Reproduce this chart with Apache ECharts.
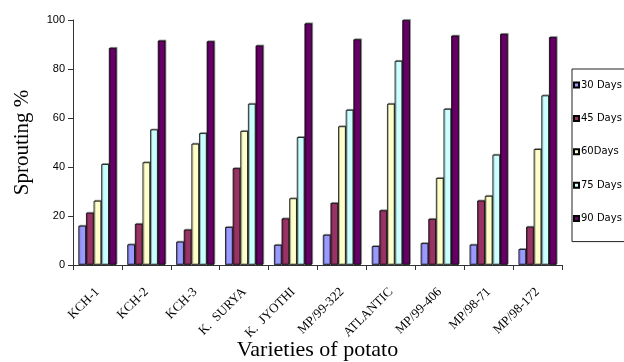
<!DOCTYPE html>
<html><head><meta charset="utf-8">
<script src="https://cdn.jsdelivr.net/npm/echarts@6/dist/echarts.min.js"></script>
<style>html,body{margin:0;padding:0;background:#fff}#c{width:624px;height:362px}</style>
</head><body><div id="c"></div>
<script>
const categories = ["KCH-1","KCH-2","KCH-3","K.  SURYA","K.  JYOTHI","MP/99-322","ATLANTIC","MP/99-406","MP/98-71","MP/98-172"];
const seriesNames = ["30 Days","45 Days","60Days","75 Days","90 Days"];
const d30 = [16.0, 8.4, 9.5, 15.5, 8.2, 12.3, 7.7, 8.9, 8.3, 6.5];
const d45 = [21.3, 16.8, 14.4, 39.5, 19.0, 25.3, 22.3, 18.8, 26.3, 15.6];
const d60 = [26.2, 41.9, 49.5, 54.7, 27.2, 56.6, 65.8, 35.5, 28.2, 47.3];
const d75 = [41.2, 55.3, 53.8, 65.8, 52.2, 63.3, 83.3, 63.7, 45.0, 69.2];
const d90 = [88.6, 91.6, 91.3, 89.6, 98.6, 92.1, 100.0, 93.6, 94.3, 93.0];
const yTicks = [0, 20, 40, 60, 80, 100];
const colors = ["#9999FF","#993366","#FFFFCC","#CCFFFF","#660066"];
const allData = [d30, d45, d60, d75, d90];

const chart = echarts.init(document.getElementById('c'), null, {renderer:'canvas'});
chart.setOption({
  animation: false,
  backgroundColor: '#fff',
  grid: {left: 73, right: 62, top: 20, bottom: 97, containLabel: false, outerBoundsMode: 'none'},
  legend: {
    orient: 'vertical', left: 572, top: 69,
    padding: [11, 40, 18, 1],
    itemWidth: 5, itemHeight: 5, itemGap: 23.4,
    borderColor: '#222', borderWidth: 1,
    icon: 'rect',
    textStyle: {fontFamily: 'DejaVu Sans', fontSize: 10, color: '#000', lineHeight: 10, padding: [0,0,0,-3]},
    data: seriesNames
  },
  xAxis: {
    type: 'category', data: categories,
    name: 'Varieties of potato', nameLocation: 'middle', nameGap: 74, nameMoveOverlap: false,
    nameTextStyle: {fontFamily: 'Liberation Serif', fontSize: 22, color: '#000'},
    axisLine: {lineStyle: {color: '#333', width: 1}},
    axisTick: {show: true, length: 5, lineStyle: {color: '#333'}},
    axisLabel: {rotate: 45, fontFamily: 'Liberation Serif', fontSize: 13, color: '#000', margin: 25, interval: 0}
  },
  yAxis: {
    type: 'value', min: 0, max: 100, interval: 20,
    name: 'Sprouting %', nameLocation: 'middle', nameGap: 40, nameMoveOverlap: false,
    nameTextStyle: {fontFamily: 'Liberation Serif', fontSize: 21, color: '#000'},
    axisLine: {show: true, lineStyle: {color: '#333', width: 1}},
    axisTick: {show: true, length: 5, lineStyle: {color: '#333'}},
    splitLine: {show: false},
    axisLabel: {fontFamily: 'Liberation Sans', fontSize: 11, color: '#000', margin: 8,
      formatter: v => yTicks.includes(v) ? String(v) : ''}
  },
  series: seriesNames.map((n, i) => ({
    name: n, type: 'bar', data: allData[i],
    barGap: '0%', barCategoryGap: '22%',
    itemStyle: {color: colors[i], borderColor: '#000', borderWidth: 0.8,
      shadowColor: 'rgba(0,0,0,0.35)', shadowOffsetX: 1, shadowOffsetY: -1, shadowBlur: 0}
  }))
});
</script></body></html>
